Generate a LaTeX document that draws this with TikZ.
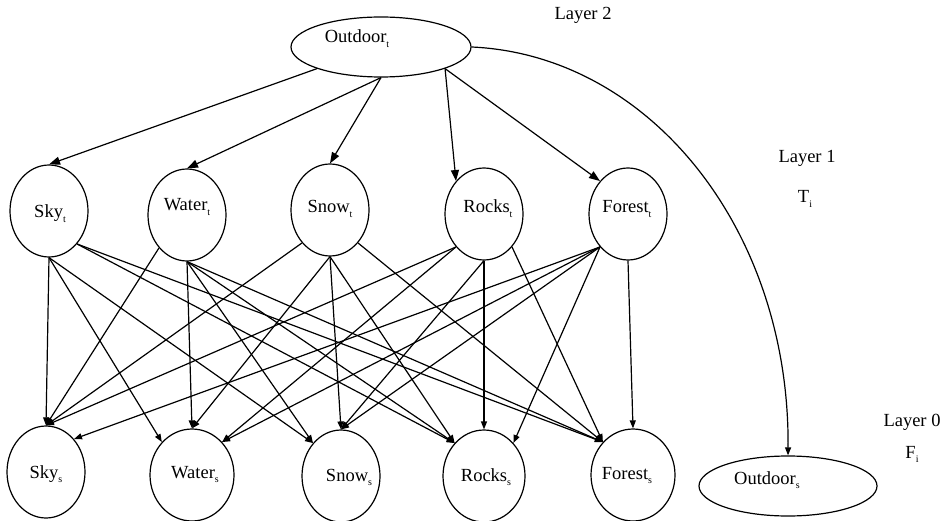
\documentclass[tikz,border=0pt]{standalone}
\usepackage{fontspec}
\setmainfont{Liberation Serif}
\usetikzlibrary{shapes.geometric,arrows.meta}
% small lowered index letter
\newcommand\lsub[1]{\raisebox{-0.55ex}{\fontsize{10}{10}\selectfont #1}}

\begin{document}
\begin{tikzpicture}[x=1pt,y=-1pt,
  var/.style={ellipse, draw, line width=1.2pt, inner sep=0pt,
              minimum width=78pt, minimum height=92pt},
  wide/.style={ellipse, draw, line width=1.2pt, inner sep=0pt,
              minimum width=180pt, minimum height=60pt},
  txt/.style={font=\fontsize{18.5}{20}\selectfont, inner sep=0pt, anchor=base},
  link/.style={line width=1.2pt, -{Triangle[length=8pt,width=6pt]}},
  toplink/.style={line width=1.2pt, -{Triangle[length=11pt,width=8pt]}}]
\useasboundingbox (0,0) rectangle (941,521);

% layer 2
\node[wide] (outt) at (381,47) {};
% layer 1 (T_i)
\node[var] (skyt)    at (49,211)  {};
\node[var] (watert)  at (187,215) {};
\node[var] (snowt)   at (330,210) {};
\node[var] (rockst)  at (484,214) {};
\node[var] (forestt) at (628,214) {};
% layer 0 (F_i)
\node[var] (skys)    at (46,472)  {};
\node[var, minimum width=84pt] (waters)  at (192,475) {};
\node[var] (snows)   at (341,476) {};
\node[var, minimum width=82pt] (rockss)  at (484,476) {};
\node[var, minimum width=84pt] (forests) at (633,475) {};
\node[wide, minimum width=178pt] (outs) at (788,486) {};

% labels
\node[txt] (loutt)    at (357,43)  {Outdoor\lsub{t}};
\node[txt] (lskyt)    at (50,218)  {Sky\lsub{t}};
\node[txt] (lwatert)  at (187,211) {Water\lsub{t}};
\node[txt] (lsnowt)   at (330,213) {Snow\lsub{t}};
\node[txt] (lrockst)  at (488,213) {Rocks\lsub{t}};
\node[txt] (lforestt) at (627,213) {Forest\lsub{t}};
\node[txt] (lskys)    at (46,478)  {Sky\lsub{s}};
\node[txt] (lwaters)  at (195,478) {Water\lsub{s}};
\node[txt] (lsnows)   at (349,481) {Snow\lsub{s}};
\node[txt] (lrockss)  at (486,481) {Rocks\lsub{s}};
\node[txt] (lforests) at (627,479) {Forest\lsub{s}};
\node[txt] (louts)    at (767,484) {Outdoor\lsub{s}};
\node[txt] (lay2) at (583,20)  {Layer 2};
\node[txt] (lay1) at (807,163) {Layer 1};
\node[txt] (tset) at (805,203) {T\lsub{i}};
\node[txt] (lay0) at (912,426) {Layer 0};
\node[txt] (fset) at (912,458) {F\lsub{i}};

% layer 2 -> layer 1
\draw[toplink] (outt.south west) -- (skyt.north);
\draw[toplink] (outt.south) -- (watert.north);
\draw[toplink] (outt.south) -- (snowt.north);
\draw[toplink] (outt.south east) -- (rockst.north west);
\draw[toplink] (outt.south east) -- (forestt.north west);
\draw[link] (outt.east) .. controls (650,55) and (790,230) .. (outs.north);

% layer 1 -> layer 0
\draw[link] (skyt.south) -- (skys.north);
\draw[link] (skyt.south) -- (waters.north west);
\draw[link] (skyt.south) -- (snows.north west);
\draw[link] (skyt.south east) -- (rockss.north west);
\draw[link] (skyt.south east) -- (forests.north west);

\draw[link] (watert.south west) -- (skys.north);
\draw[link] (watert.south) -- (waters.north);
\draw[link] (watert.south) -- (snows.north west);
\draw[link] (watert.south) -- (rockss.north west);
\draw[link] (watert.south) -- (forests.north west);

\draw[link] (snowt.south west) -- (skys.north);
\draw[link] (snowt.south) -- (waters.north);
\draw[link] (snowt.south) -- (snows.north);
\draw[link] (snowt.south) -- (rockss.north west);
\draw[link] (snowt.south east) -- (forests.north west);

\draw[link] (rockst.south west) -- (skys.north);
\draw[link] (rockst.south west) -- (waters.north east);
\draw[link] (rockst.south) -- (snows.north);
\draw[link] (rockst.south) -- (rockss.north);
\draw[link] (rockst.south east) -- (forests.north west);

\draw[link] (forestt.south west) -- (skys.north east);
\draw[link] (forestt.south west) -- (waters.north east);
\draw[link] (forestt.south west) -- (snows.north);
\draw[link] (forestt.south west) -- (rockss.north east);
\draw[link] (forestt.south) -- (forests.north);
\end{tikzpicture}
\end{document}
